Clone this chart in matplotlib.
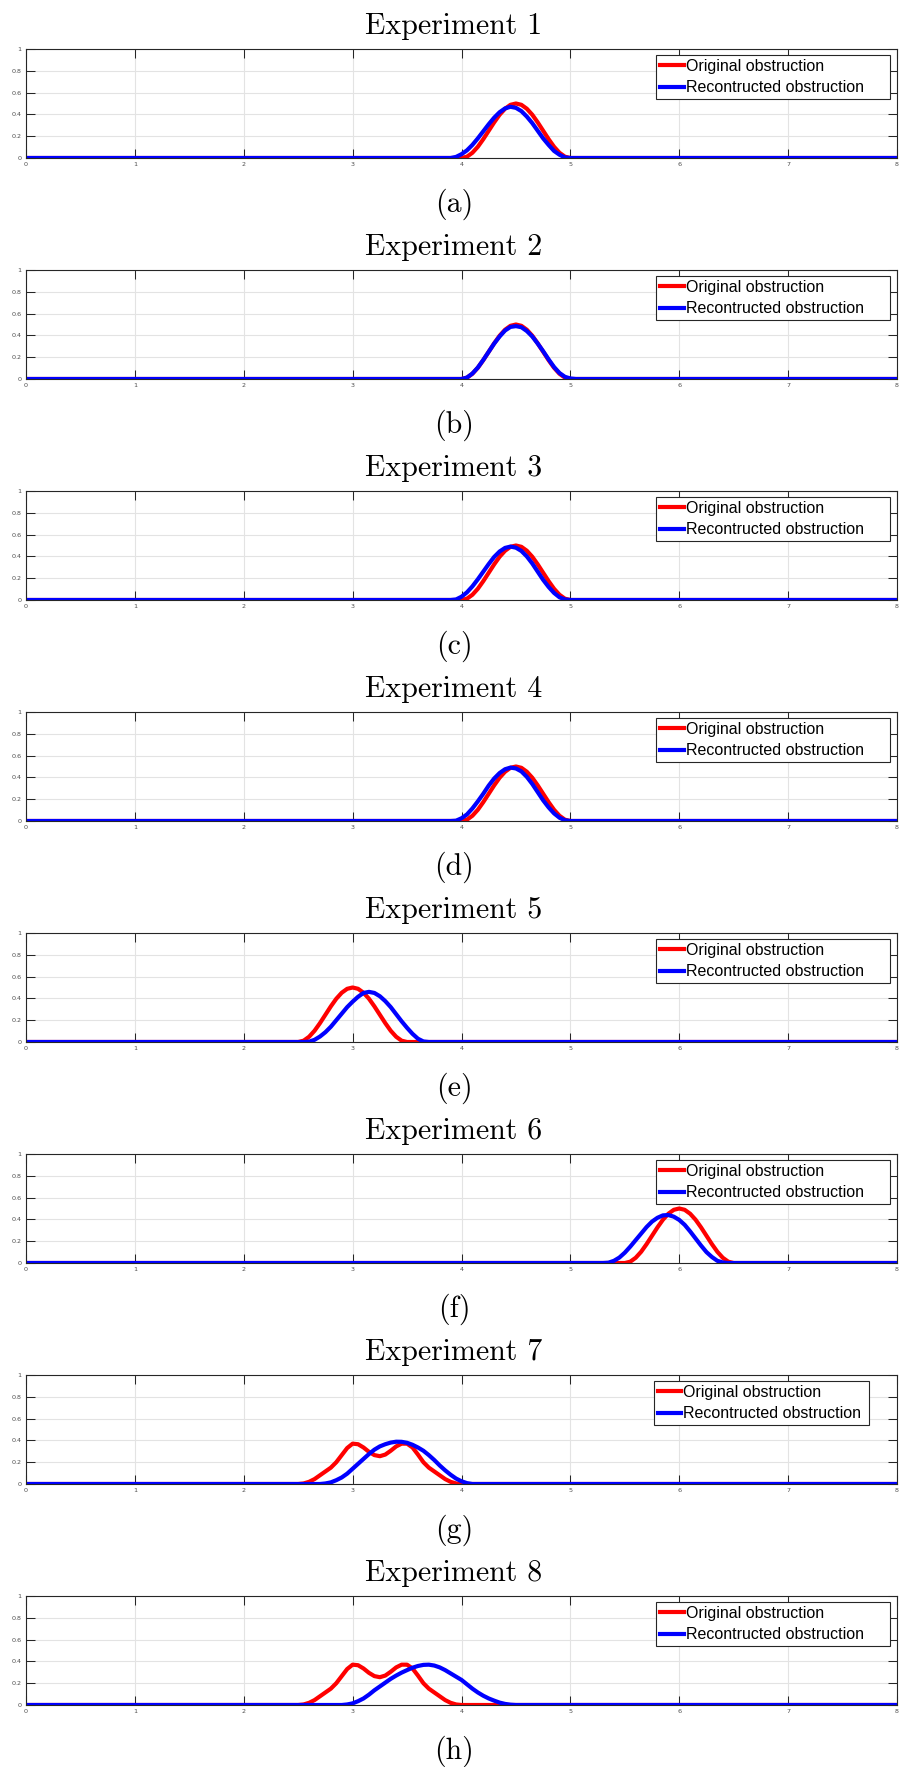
"""Eight obstruction reconstruction experiments, stacked MATLAB-style panels."""

import matplotlib
matplotlib.use("Agg")
import matplotlib.pyplot as plt
import numpy as np

# ── data ─────────────────────────────────────────────────────────────
# each curve: first x of its non-zero stretch + values every 0.05;
# outside that stretch the curve sits at 0 over the whole [0, 8] axis.
STEP = 0.05

single_start_a = 4.0   # original bump, experiments 1-4
single_start_b = 2.5   # original bump, experiment 5
single_start_c = 5.5   # original bump, experiment 6
single_bump = [0, 0.012, 0.048, 0.103, 0.173, 0.25, 0.327, 0.397, 0.452,
               0.488, 0.5, 0.488, 0.452, 0.397, 0.327, 0.25, 0.173, 0.103,
               0.048, 0.012, 0]

twin_start = 2.5       # original obstruction, experiments 7-8
twin_bump = [0, 0.005, 0.02, 0.045, 0.08, 0.115, 0.15, 0.2, 0.265, 0.33,
             0.37, 0.365, 0.335, 0.295, 0.265, 0.255, 0.27, 0.305, 0.345,
             0.37, 0.37, 0.335, 0.27, 0.2, 0.15, 0.115, 0.08, 0.045, 0.02,
             0.005, 0]

rec1_start = 3.9
rec1 = [0, 0.01, 0.035, 0.07, 0.12, 0.18, 0.245, 0.31, 0.37, 0.42, 0.455,
        0.47, 0.46, 0.43, 0.38, 0.32, 0.25, 0.18, 0.12, 0.065, 0.03, 0.005, 0]

rec2_start = 4.0
rec2 = [0, 0.013, 0.05, 0.105, 0.175, 0.25, 0.325, 0.39, 0.445, 0.478,
        0.485, 0.475, 0.44, 0.39, 0.325, 0.255, 0.18, 0.11, 0.055, 0.02,
        0.005, 0]

rec3_start = 3.9
rec3 = [0, 0.005, 0.03, 0.07, 0.125, 0.19, 0.26, 0.33, 0.395, 0.445, 0.478,
        0.49, 0.48, 0.45, 0.40, 0.335, 0.26, 0.185, 0.12, 0.065, 0.025,
        0.005, 0]

rec4_start = 3.9
rec4 = [0, 0.003, 0.025, 0.06, 0.115, 0.18, 0.25, 0.325, 0.39, 0.44, 0.475,
        0.49, 0.482, 0.455, 0.405, 0.34, 0.265, 0.19, 0.125, 0.07, 0.03,
        0.007, 0]

rec5_start = 2.55
rec5 = [0, 0.003, 0.02, 0.05, 0.09, 0.14, 0.2, 0.26, 0.32, 0.37, 0.415,
        0.45, 0.46, 0.45, 0.42, 0.375, 0.32, 0.255, 0.19, 0.13, 0.075, 0.03,
        0.005, 0]

rec6_start = 5.3
rec6 = [0, 0.003, 0.02, 0.05, 0.095, 0.15, 0.21, 0.27, 0.33, 0.38, 0.415,
        0.437, 0.44, 0.425, 0.395, 0.35, 0.29, 0.225, 0.16, 0.1, 0.055, 0.02,
        0.005, 0]

rec7_start = 2.7
rec7 = [0, 0.005, 0.015, 0.035, 0.06, 0.095, 0.14, 0.185, 0.23, 0.275,
        0.315, 0.345, 0.365, 0.38, 0.388, 0.387, 0.378, 0.36, 0.335, 0.305,
        0.265, 0.22, 0.17, 0.125, 0.085, 0.05, 0.025, 0.008, 0]

rec8_start = 2.9
rec8 = [0, 0.005, 0.015, 0.035, 0.06, 0.095, 0.135, 0.17, 0.205, 0.24, 0.27,
        0.297, 0.32, 0.342, 0.358, 0.368, 0.37, 0.362, 0.345, 0.32, 0.29,
        0.26, 0.23, 0.19, 0.15, 0.115, 0.085, 0.06, 0.04, 0.022, 0.01, 0.003,
        0]

experiments = [
    ((single_start_a, single_bump), (rec1_start, rec1)),
    ((single_start_a, single_bump), (rec2_start, rec2)),
    ((single_start_a, single_bump), (rec3_start, rec3)),
    ((single_start_a, single_bump), (rec4_start, rec4)),
    ((single_start_b, single_bump), (rec5_start, rec5)),
    ((single_start_c, single_bump), (rec6_start, rec6)),
    ((twin_start, twin_bump), (rec7_start, rec7)),
    ((twin_start, twin_bump), (rec8_start, rec8)),
]
captions = ["(a)", "(b)", "(c)", "(d)", "(e)", "(f)", "(g)", "(h)"]
x_ticks = [0, 1, 2, 3, 4, 5, 6, 7, 8]
y_ticks = [0, 0.2, 0.4, 0.6, 0.8, 1.0]
y_tick_labels = ["0", "0.2", "0.4", "0.6", "0.8", "1"]
labels = ["Original obstruction", "Recontructed obstruction"]


def full_curve(start, vals):
    """Pad a bump with the flat zero line out to both ends of [0, 8]."""
    xs = start + STEP * np.arange(len(vals))
    return (np.concatenate([[0.0], xs, [8.0]]),
            np.concatenate([[0.0], vals, [0.0]]))


W, H = 899, 1767
fig = plt.figure(figsize=(W / 100, H / 100), dpi=100)

ink = "#262626"
for i, (orig, rec) in enumerate(experiments):
    top = 49 + 221 * i
    bot = 158 + 221 * i
    ax = fig.add_axes([26 / W, 1 - bot / H, (897 - 26) / W, (bot - top) / H])
    # MATLAB left extra room at the right of the legend text
    pad = " " if i == 6 else "     "
    ox, oy = full_curve(*orig)
    rx, ry = full_curve(*rec)
    ax.plot(ox, oy, color="red", lw=3.0, label=labels[0] + pad)
    ax.plot(rx, ry, color="blue", lw=3.0, label=labels[1] + pad)
    ax.set_xlim(0, 8)
    ax.set_ylim(0, 1)
    ax.set_xticks(x_ticks)
    ax.set_yticks(y_ticks)
    ax.set_yticklabels(y_tick_labels)
    ax.tick_params(direction="in", length=6.5, width=0.75, color=ink,
                   labelsize=4.6, labelcolor="#4d4d4d", pad=3,
                   top=True, right=True)
    ax.grid(True, color="#e3e3e3", lw=0.8)
    ax.set_axisbelow(True)
    for sp in ax.spines.values():
        sp.set_color(ink)
        sp.set_linewidth(0.8)

    anchor_x = 0.968 if i == 6 else 0.992
    leg = ax.legend(loc="upper right", bbox_to_anchor=(anchor_x, 0.945),
                    borderaxespad=0, handlelength=1.45,
                    handletextpad=0.12, labelspacing=0.4, borderpad=0.25,
                    fancybox=False, framealpha=1, edgecolor=ink,
                    prop={"family": "Liberation Sans", "size": 11.5})
    leg.get_frame().set_linewidth(0.8)

    fig.text(454 / W, 1 - (34 + 221 * i) / H, f"Experiment {i + 1}",
             family="cmr10", fontsize=21.5, ha="center", va="baseline")
    fig.text(454 / W, 1 - (212 + 221 * i) / H, captions[i],
             family="cmr10", fontsize=21.5, ha="center", va="baseline")

fig.savefig("out.png", dpi=100)
